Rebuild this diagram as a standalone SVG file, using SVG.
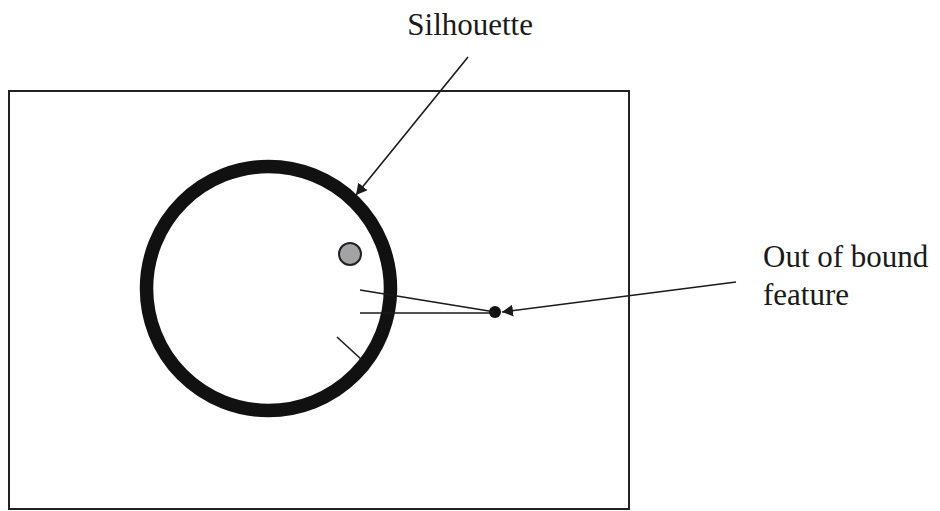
<svg xmlns="http://www.w3.org/2000/svg" width="940" height="511" viewBox="0 0 940 511">
<defs>
<style>
.lbl{font-family:"Liberation Serif","Times New Roman",serif;font-size:31px;fill:#1a1a1a}
.thin{stroke:#1a1a1a;stroke-width:1.6;fill:none}
</style>
<marker id="ah" viewBox="0 0 10 10" refX="10" refY="5" markerWidth="11" markerHeight="12" markerUnits="userSpaceOnUse" orient="auto" preserveAspectRatio="none">
<path d="M0,0 L10,5 L0,10 z" fill="#1a1a1a"/>
</marker>
</defs>
<rect width="940" height="511" fill="#ffffff"/>
<g id="frame"><rect x="9" y="91" width="620" height="418" fill="none" stroke="#222" stroke-width="2"/></g>
<g id="silhouette"><circle cx="268.5" cy="288.5" r="122" fill="none" stroke="#111" stroke-width="13.5"/></g>
<g id="inside-feature"><circle cx="350" cy="254" r="11" fill="#a3a3a5" stroke="#222" stroke-width="2"/></g>
<g id="out-feature"><circle cx="495" cy="312" r="6" fill="#111"/></g>
<g id="feature-lines">
<line class="thin" x1="360" y1="290" x2="495" y2="312"/>
<line class="thin" x1="360" y1="313" x2="495" y2="313"/>
<line class="thin" x1="337" y1="337" x2="362" y2="360"/>
</g>
<g id="connectors">
<line class="thin" x1="468" y1="57" x2="356" y2="195" marker-end="url(#ah)"/>
<line class="thin" x1="736" y1="282" x2="502" y2="312" marker-end="url(#ah)"/>
</g>
<g id="label-silhouette"><text class="lbl" x="533" y="35" text-anchor="end">Silhouette</text></g>
<g id="label-out"><text class="lbl" x="763" y="267">Out of bound</text><text class="lbl" x="763" y="305">feature</text></g>
</svg>
